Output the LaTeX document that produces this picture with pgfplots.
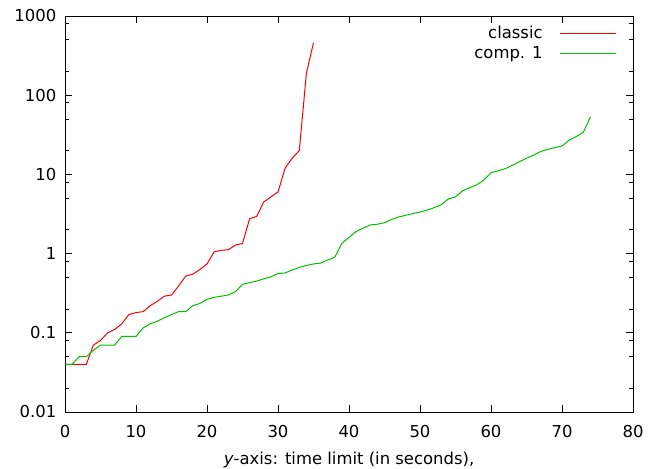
\documentclass[border=0pt]{standalone}
\usepackage{fontspec}
\setmainfont{DejaVu Sans}
\usepackage{pgfplots}
\pgfplotsset{compat=1.18}
\definecolor{gpred}{RGB}{255,0,0}
\definecolor{gpgreen}{RGB}{0,192,0}
\newcommand{\gpfont}{\fontsize{16.5}{20}\selectfont}

\begin{document}
\gpfont
\begin{tikzpicture}
\begin{axis}[
    scale only axis,
    width=568bp, height=396bp,
    xmin=0, xmax=80,
    ymin=0.01, ymax=1000,
    ymode=log,
    xtick={0,10,...,80},
    ytick={0.01,0.1,1,10,100,1000},
    yticklabels={0.01,0.1,1,10,100,1000},
    minor ytick={0.02,0.05,0.08,0.2,0.5,0.8,2,5,8,20,50,80,200,500,800},
    tick align=inside,
    major tick length=7bp,
    minor tick length=4bp,
    tick style={black, line width=0.8bp},
    axis line style={line width=0.8bp},
    /pgf/number format/assume math mode=true,
    tick label style={font=\gpfont},
    xticklabel style={yshift=-8bp},
    yticklabel style={xshift=-3bp},
    xlabel={\textit{y}-axis: time limit (in seconds),},
    xlabel style={font=\gpfont, yshift=-3bp},
    legend style={draw=none, fill=none, at={(1,1)}, anchor=north east,
        xshift=-13bp, yshift=-6bp, font=\gpfont,
        row sep=1bp, column sep=15bp},
    legend plot pos=right,
    legend cell align=right,
    legend image code/.code={\draw[#1, line width=1.2bp] (0bp,0bp) -- (56bp,0bp);},
]
\addplot[gpred, line width=1bp] coordinates {
    (0,0.04) (1,0.04) (2,0.04) (3,0.04) (4,0.07) (5,0.08) (6,0.10) (7,0.11)
    (8,0.13) (9,0.17) (10,0.18) (11,0.185) (12,0.22) (13,0.25) (14,0.29)
    (15,0.30) (16,0.39) (17,0.52) (18,0.55) (19,0.63) (20,0.74) (21,1.05)
    (22,1.10) (23,1.12) (24,1.28) (25,1.34) (26,2.75) (27,2.95) (28,4.5)
    (29,5.2) (30,6.0) (31,12) (32,16) (33,20) (34,190) (35,460)
};
\addlegendentry{classic}
\addplot[gpgreen, line width=1bp] coordinates {
    (0,0.04) (1,0.04) (2,0.05) (3,0.05) (4,0.06) (5,0.07) (6,0.07) (7,0.07)
    (8,0.09) (9,0.09) (10,0.09) (11,0.115) (12,0.13) (13,0.14) (14,0.155)
    (15,0.17) (16,0.185) (17,0.185) (18,0.22) (19,0.235) (20,0.265) (21,0.28)
    (22,0.29) (23,0.30) (24,0.33) (25,0.41) (26,0.43) (27,0.45) (28,0.48)
    (29,0.51) (30,0.56) (31,0.57) (32,0.62) (33,0.67) (34,0.71) (35,0.74)
    (36,0.76) (37,0.83) (38,0.90) (39,1.35) (40,1.6) (41,1.9) (42,2.1)
    (43,2.3) (44,2.35) (45,2.45) (46,2.7) (47,2.9) (48,3.05) (49,3.2)
    (50,3.35) (51,3.55) (52,3.8) (53,4.15) (54,4.9) (55,5.2) (56,6.2)
    (57,6.8) (58,7.4) (59,8.5) (60,10.5) (61,11.1) (62,11.8) (63,13.0)
    (64,14.5) (65,16) (66,17.5) (67,19.5) (68,20.7) (69,21.8) (70,22.8)
    (71,27) (72,30) (73,34) (74,53)
};
\addlegendentry{comp. 1}
\end{axis}
\pgfresetboundingbox
\path ([xshift=-65bp,yshift=-57bp]current axis.south west)
    rectangle ([xshift=17bp,yshift=16bp]current axis.north east);
\end{tikzpicture}
\end{document}
